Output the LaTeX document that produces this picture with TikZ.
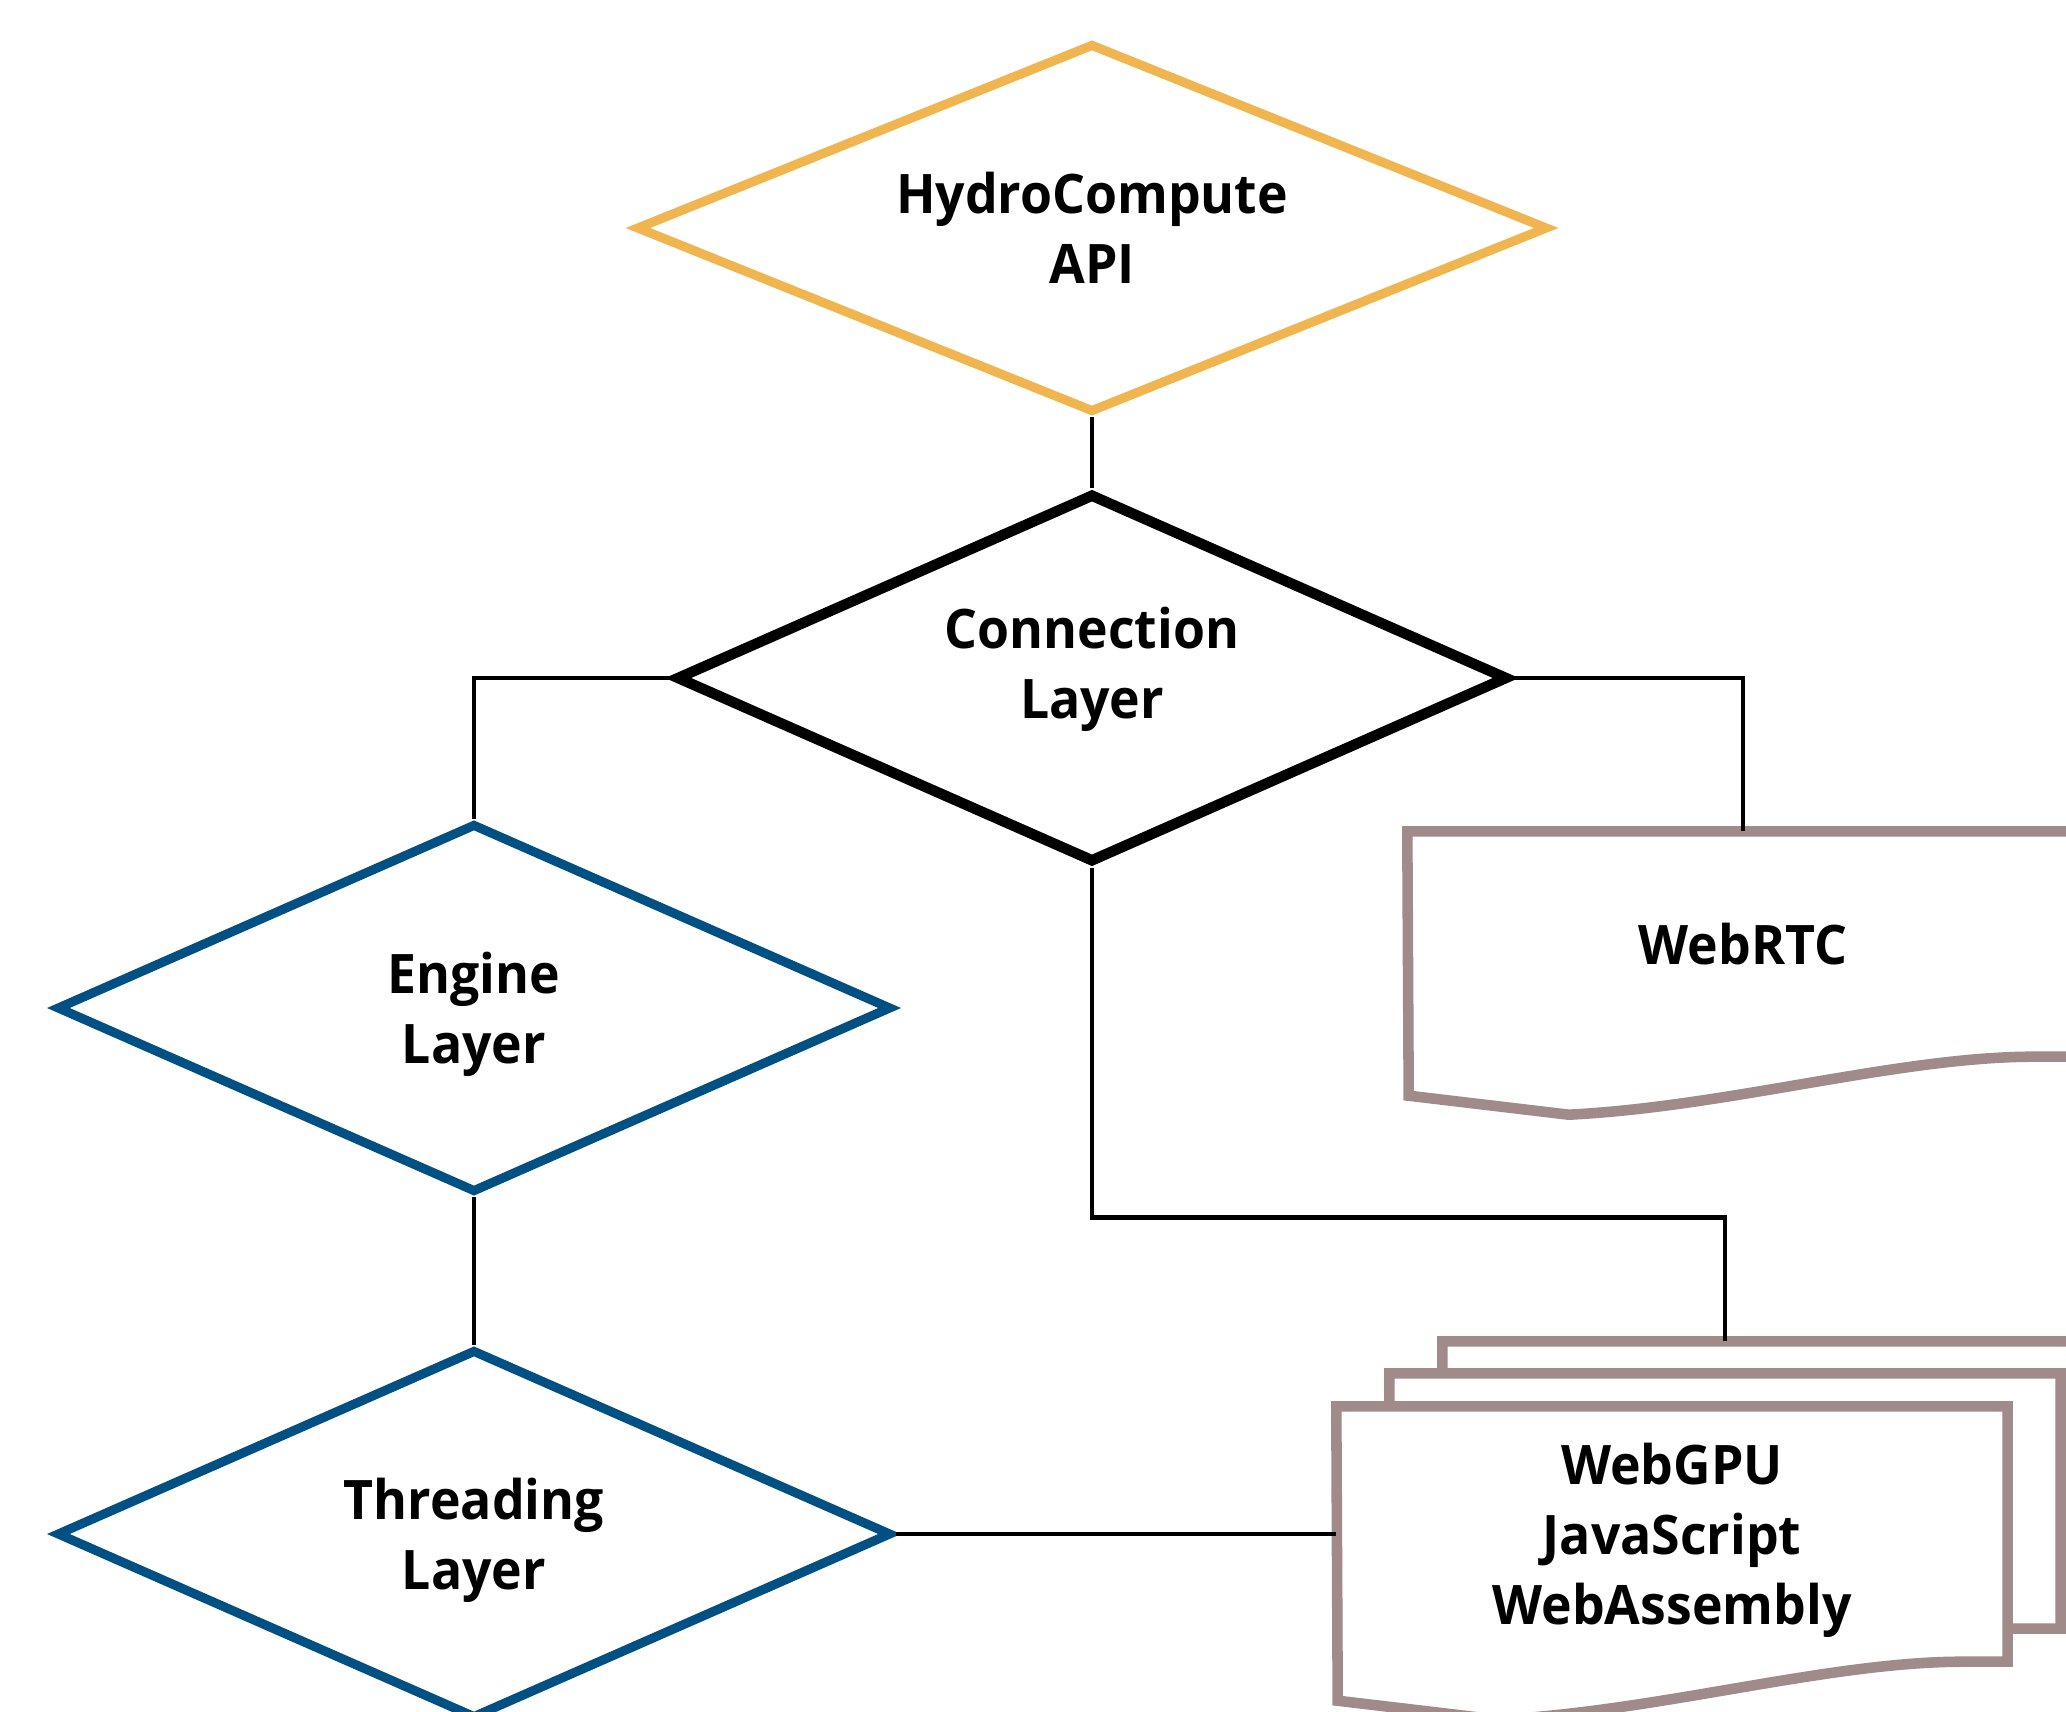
\documentclass[tikz,border=0pt]{standalone}
\usepackage{fontspec}
\setmainfont{Open Sans}[FakeStretch=0.95]
\usepackage{tikz}
\usepackage{xcolor}
\usetikzlibrary{shapes,arrows,positioning,fit,backgrounds,calc}
\definecolor{apiorange}{RGB}{240, 181, 78}
\definecolor{layerblue}{RGB}{0, 80, 131}
\definecolor{docgrey}{RGB}{160, 138, 138}

\begin{document}
\begin{tikzpicture}[
    node distance=4.5cm,
    every node/.style={align=center, font=\fontsize{15.5}{20}\selectfont\bfseries},
    api/.style={diamond, aspect=2.5, inner sep=0pt, minimum width=9.12cm, minimum height=3.69cm, draw=apiorange, fill=white, line width=2.6pt},
    connection/.style={diamond, aspect=2.5, inner sep=0pt, minimum width=8.32cm, minimum height=3.69cm, draw=black, fill=white, line width=3pt, text depth=0.31cm},
    layer/.style={diamond, aspect=2.5, inner sep=0pt, minimum width=8.35cm, minimum height=3.69cm, draw=layerblue, fill=white, line width=2.6pt, text depth=0pt},
    document/.style={rectangle, inner sep=0pt, minimum width=6.7cm},
    docline/.style={draw=docgrey, fill=white, line width=3pt},
    link/.style={draw=black, line width=1.3pt}
]
\useasboundingbox (0,0) rectangle (20.66,-17.12);

% Layers
\node[api] (api) at (10.92,-2.28) {HydroCompute\\API};

\node[connection, below of=api] (conn) {Connection\\Layer};

\node[layer, below of=conn, xshift=-6.18cm, yshift=1.2cm] (engine) {Engine\\Layer};

\node[layer, below of=engine, yshift=-0.76cm] (threading) {Threading\\Layer};

% Documents
\node[document, minimum height=2.24cm, right of=conn, xshift=2.01cm, yshift=-2.66cm] (webrtc) {WebRTC};

\node[document, minimum height=2.54cm, text depth=0pt, right of=threading, xshift=7.48cm] (gpu) {WebGPU\\JavaScript\\WebAssembly};

\coordinate (stacktop) at ($(gpu.north)+(0.53,0.65)$);

\begin{scope}[on background layer]
\draw[docline] (webrtc.north west) -- (webrtc.north east) -- (webrtc.south east) -- ++(-0.45,0) .. controls +(-1.35,0) and +(1.6,0.08) .. ++(-4.65,-0.58) -- ++(-1.6,0.19) -- cycle;
\foreach \dx/\dy in {1.06/0.65, 0.53/0.33, 0/0} {
    \draw[docline] ($(gpu.north west)+(\dx,\dy)$) -- ($(gpu.north east)+(\dx,\dy)$) -- ($(gpu.south east)+(\dx,\dy)$) -- ++(-0.45,0) .. controls +(-1.35,0) and +(1.6,0.08) .. ++(-4.65,-0.58) -- ++(-1.6,0.19) -- cycle;
}
\end{scope}

% Connections
\draw[link] (api.south) -- (conn.north);
\draw[link] (conn.west) -| (engine.north);
\draw[link] (conn.east) -| (webrtc.north);
\draw[link] (conn.south) -- ++(0,-3.5) -| (stacktop);
\draw[link] (engine.south) -- (threading.north);
\draw[link] (threading.east) -- (gpu.west);

\end{tikzpicture}
\end{document}
